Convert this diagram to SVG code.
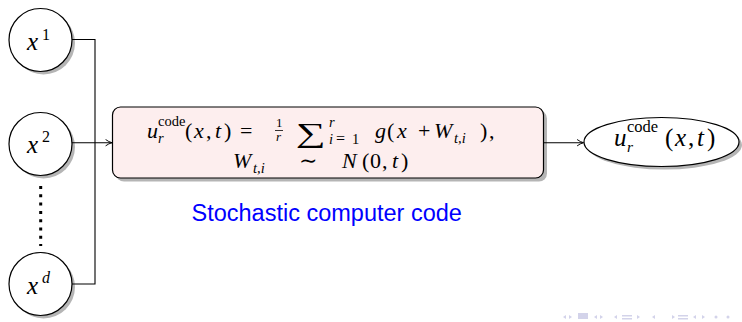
<svg xmlns="http://www.w3.org/2000/svg" width="742" height="322" viewBox="0 0 742 322">
<style>
.node{fill:#fff;stroke:#000;stroke-width:1.2}
.shadow{fill:#b5b5b5}
.wire{fill:none;stroke:#000;stroke-width:1.1}
.m{font-family:"Liberation Serif","DejaVu Serif",serif;fill:#000}
.b{font-size:22px}
.i{font-style:italic}
.s{font-size:14.5px}
.cap{font-family:"Liberation Sans",Arial,sans-serif;fill:#0000ff}
.nav{fill:#c9c9e6}
</style>
<defs>
<marker id="arr" viewBox="0 0 10 10" refX="9" refY="5" markerWidth="8" markerHeight="8" markerUnits="userSpaceOnUse" orient="auto">
<path d="M1,1 Q5,4 9,5 Q5,6 1,9" fill="none" stroke="#000" stroke-width="1.2"/>
</marker>
</defs>
<rect width="742" height="322" fill="#fff"/>

<g id="x1">
<circle class="shadow" cx="43.5" cy="43" r="31.5"/>
<circle class="node" cx="40.5" cy="40" r="31.5"/>
<text class="m i" x="27" y="50" font-size="25">x</text>
<text class="m" x="42" y="40" font-size="16">1</text>
</g>
<g id="x2">
<circle class="shadow" cx="43.5" cy="147" r="31.5"/>
<circle class="node" cx="40.5" cy="144" r="31.5"/>
<text class="m i" x="27" y="153" font-size="25">x</text>
<text class="m" x="42" y="142" font-size="16">2</text>
</g>
<g id="xd">
<circle class="shadow" cx="43.5" cy="287" r="31.5"/>
<circle class="node" cx="40.5" cy="284" r="31.5"/>
<text class="m i" x="27" y="294" font-size="25">x</text>
<text class="m i" x="42" y="283" font-size="16">d</text>
</g>
<g id="vdots">
<line x1="40.7" y1="186" x2="40.7" y2="246" stroke="#000" stroke-width="3" stroke-dasharray="3 5.3"/>
</g>

<g id="code">
<rect class="shadow" x="116" y="110.5" width="431" height="71" rx="8"/>
<rect x="112.5" y="107" width="431" height="71" rx="8" fill="#fdeeee" stroke="#000" stroke-width="1.2"/>
<text class="m b"><tspan class="i" x="147" y="138">u</tspan><tspan class="s" x="158" y="126">code</tspan><tspan class="s i" x="158" y="143">r</tspan><tspan x="185" y="138">(</tspan><tspan class="i" x="194" y="138">x</tspan><tspan x="206" y="138">,</tspan><tspan class="i" x="215" y="138">t</tspan><tspan x="224" y="138">)</tspan><tspan x="240" y="138">=</tspan></text>
<text class="m" font-size="13"><tspan x="276" y="127">1</tspan><tspan class="i" x="276" y="141">r</tspan></text>
<line x1="275" y1="130.5" x2="283" y2="130.5" stroke="#000" stroke-width="0.8"/>
<text class="m" transform="translate(296,142) scale(1.55,1)" font-size="27">∑</text>
<text class="m s"><tspan class="i" x="329" y="127">r</tspan><tspan class="i" x="329" y="144">i</tspan><tspan x="336" y="144" font-size="16">=</tspan><tspan x="352" y="144">1</tspan></text>
<text class="m b"><tspan class="i" x="375" y="138">g</tspan><tspan x="387" y="138">(</tspan><tspan class="i" x="397" y="138">x</tspan><tspan x="418" y="138">+</tspan><tspan class="i" x="434" y="138">W</tspan><tspan class="s i" x="454" y="143">t,i</tspan><tspan x="480" y="138">)</tspan><tspan x="489" y="138">,</tspan></text>
<text class="m b"><tspan class="i" x="233" y="168">W</tspan><tspan class="s i" x="253" y="173">t,i</tspan><tspan x="299" y="168">∼</tspan><tspan class="i" x="342" y="168">N</tspan><tspan x="362" y="168">(</tspan><tspan x="370" y="168">0</tspan><tspan x="382" y="168">,</tspan><tspan class="i" x="392" y="168">t</tspan><tspan x="401" y="168">)</tspan></text>
</g>

<g id="out">
<ellipse class="shadow" cx="664.5" cy="145" rx="77.5" ry="24.5"/>
<ellipse class="node" cx="661.5" cy="142" rx="77.5" ry="24.5"/>
<text class="m" font-size="25"><tspan class="i" x="614" y="146">u</tspan><tspan x="627" y="132" font-size="16.5">code</tspan><tspan class="i" x="627" y="152" font-size="15.5">r</tspan><tspan x="665" y="146">(</tspan><tspan class="i" x="675" y="146">x</tspan><tspan x="688" y="146">,</tspan><tspan class="i" x="697" y="146">t</tspan><tspan x="707" y="146">)</tspan></text>
</g>

<g id="label">
<text class="cap" x="191.5" y="221" font-size="23.5">Stochastic computer code</text>
</g>

<g id="connectors">
<polyline class="wire" points="72,39.5 95,39.5 95,284 72,284"/>
<line class="wire" x1="72" y1="142.7" x2="112" y2="142.7" marker-end="url(#arr)"/>
<line class="wire" x1="543.5" y1="142.7" x2="583.5" y2="142.7" marker-end="url(#arr)"/>
</g>

<g id="nav" opacity="0.8">
<path class="nav" d="M563,317 l3,-2 v4z M572,317 l-3,-2 v4z"/>
<rect class="nav" x="578" y="313" width="10" height="6"/>
<path class="nav" d="M594,317 l3,-2 v4z M603,317 l-3,-2 v4z"/>
<path class="nav" d="M614,317 l3,-2 v4z M640,317 l-3,-2 v4z"/>
<rect class="nav" x="622" y="315" width="10" height="1.5"/>
<rect class="nav" x="622" y="318" width="10" height="1.5"/>
<path class="nav" d="M652,317 l3,-2 v4z M675,317 l-3,-2 v4z"/>
<rect class="nav" x="678" y="315" width="10" height="1.5"/>
<rect class="nav" x="678" y="318" width="10" height="1.5"/>
<path class="nav" d="M693,317 l3,-2 v4z M705,317 l-3,-2 v4z"/>
<circle class="nav" cx="716" cy="317" r="1.5"/>
<circle class="nav" cx="728" cy="317" r="1.5"/>
</g>
</svg>
